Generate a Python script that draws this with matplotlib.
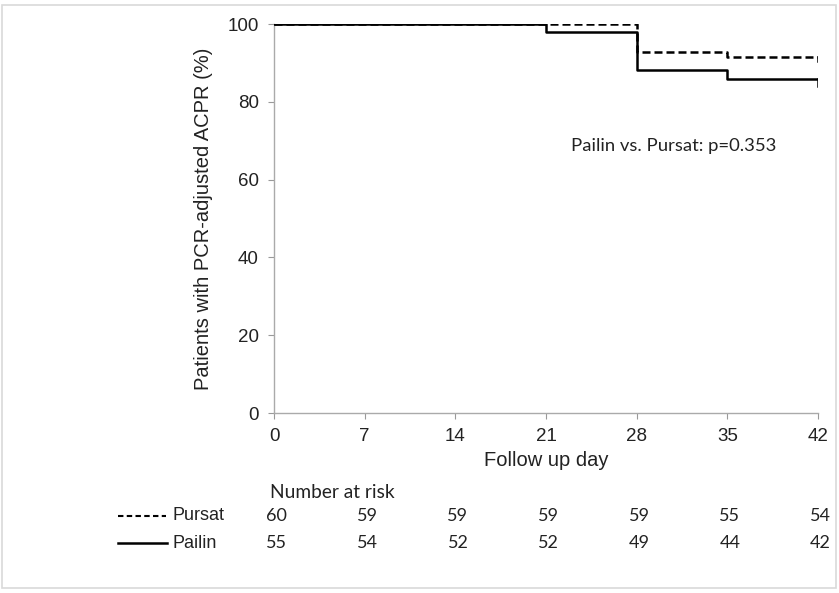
import matplotlib.pyplot as plt
from matplotlib.patches import Rectangle
from matplotlib.transforms import blended_transform_factory

# Kaplan-Meier step data
pursat_days = [0, 21, 28, 35, 42]
pursat_pct = [100, 100, 92.9, 91.6, 91.6]
pailin_days = [0, 21, 28, 35, 42]
pailin_pct = [100, 98.0, 88.2, 85.9, 85.9]
end_tick_pursat = 90.6
end_tick_pailin = 84.0

ticks = [0, 7, 14, 21, 28, 35, 42]
risk_pursat = [60, 59, 59, 59, 59, 55, 54]
risk_pailin = [55, 54, 52, 52, 49, 44, 42]

plt.rcParams['font.family'] = ['Liberation Sans', 'DejaVu Sans']
calib = ['Lato', 'DejaVu Sans']

fig = plt.figure(figsize=(8.39, 5.93), dpi=100)
ax = fig.add_axes([0.3266, 0.3035, 0.975 - 0.3266, 0.9595 - 0.3035])

dash = (0, (3.2, 1.6))
ax.step(pursat_days, pursat_pct, where='post', color='black', lw=1.8, linestyle=dash, zorder=3)
ax.step(pailin_days, pailin_pct, where='post', color='black', lw=1.8, zorder=4)
ax.plot([42, 42], [pursat_pct[-1], end_tick_pursat], color='black', lw=1.8, zorder=3)
ax.plot([42, 42], [pailin_pct[-1], end_tick_pailin], color='black', lw=1.8, zorder=4)

ax.set_xlim(0, 42)
ax.set_ylim(0, 100)
ax.set_xticks(ticks)
ax.set_yticks([0, 20, 40, 60, 80, 100])
ax.tick_params(labelsize=13.5, color='#999999', length=4, width=0.8, pad=7, labelcolor='#222222')
for side in ['top', 'right']:
    ax.spines[side].set_visible(False)
for side in ['left', 'bottom']:
    ax.spines[side].set_color('#aaaaaa')
    ax.spines[side].set_linewidth(1.0)
ax.set_ylabel('Patients with PCR-adjusted ACPR (%)', fontsize=14.5, labelpad=10, color='#222222')
ax.set_xlabel('Follow up day', fontsize=14.5, labelpad=4, color='#222222')

ax.text(22.9, 68.6, 'Pailin vs. Pursat: p=0.353', fontsize=13.3,
        family=calib, va='center', ha='left', color='#222222')

# number at risk table
tr = blended_transform_factory(ax.transData, fig.transFigure)
ax.text(-0.3, 1 - 493 / 593, 'Number at risk', transform=tr, fontsize=13.8,
        family=calib, ha='left', va='center', color='#222222')
for d, a, b in zip(ticks, risk_pursat, risk_pailin):
    ax.text(d + 0.2, 1 - 516 / 593, str(a), transform=tr, fontsize=13, family=calib,
            ha='center', va='center', color='#222222')
    ax.text(d + 0.2, 1 - 543 / 593, str(b), transform=tr, fontsize=13, family=calib,
            ha='center', va='center', color='#222222')

fig.add_artist(plt.Line2D([118 / 839, 166 / 839], [1 - 516 / 593] * 2, color='black',
                          lw=1.5, linestyle=(0, (2.6, 1.6))))
fig.text(172 / 839, 1 - 515 / 593, 'Pursat', fontsize=13, va='center', color='#222222')
fig.add_artist(plt.Line2D([118 / 839, 167 / 839], [1 - 543 / 593] * 2, color='black', lw=1.8))
fig.text(172 / 839, 1 - 543 / 593, 'Pailin', fontsize=13, va='center', color='#222222')

# light frame round the whole picture
fig.add_artist(Rectangle((2 / 839, 5 / 593), 834 / 839, 583 / 593, transform=fig.transFigure,
                         fill=False, edgecolor='#d9d9d9', lw=1.2))

fig.savefig('out.png', dpi=100)
